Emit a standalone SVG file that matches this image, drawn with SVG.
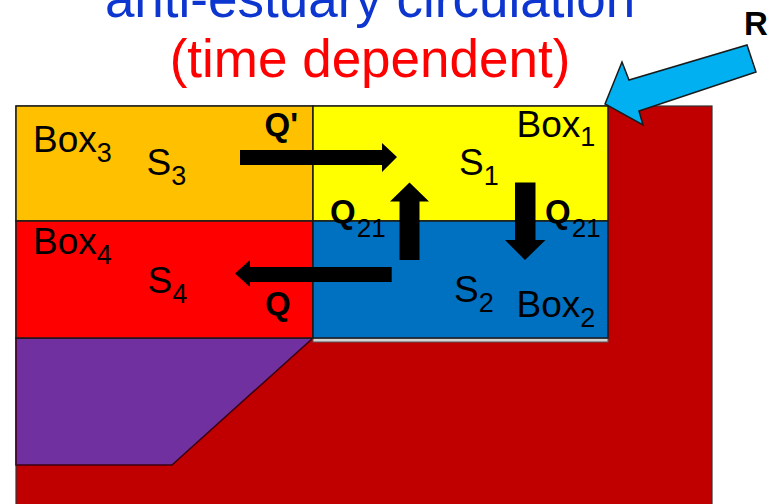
<svg xmlns="http://www.w3.org/2000/svg" width="778" height="504" viewBox="0 0 778 504">
  <style>
    .title { font-family: "Liberation Sans", Arial, sans-serif; font-size: 53px; text-anchor: middle; }
    .lbl { font-family: "Liberation Sans", Arial, sans-serif; font-size: 37px; fill: #000; }
    .sub { font-size: 27px; }
    .q { font-family: "Liberation Sans", Arial, sans-serif; font-size: 33px; font-weight: bold; fill: #000; }
    .qsub { font-size: 26px; font-weight: normal; }
    .box { stroke: #1a1a1a; stroke-width: 1.5; }
    .flow { fill: #000; }
  </style>

  <rect width="778" height="504" fill="#ffffff"/>

  <!-- title (first line runs past the top edge) -->
  <g id="title">
    <text class="title" x="370" y="17" fill="#0D35CF">anti-estuary circulation</text>
    <text class="title" x="370" y="77" fill="#FF0000">(time dependent)</text>
  </g>

  <!-- sea floor / basin -->
  <g id="basin">
    <rect x="16" y="106" width="696" height="410" fill="#C00000" stroke="#333" stroke-width="1.2"/>
    <polygon points="16,338 313,338 172,465 16,465" fill="#7030A0" stroke="#3a0010" stroke-width="1.5"/>
    <rect x="313" y="338" width="295" height="4" fill="#D4D4D4" stroke="#555" stroke-width="1"/>
  </g>

  <g id="box3">
    <rect class="box" x="16" y="106" width="297" height="115" fill="#FFC000"/>
    <text class="lbl" x="33" y="152">Box<tspan class="sub" dy="9.5">3</tspan></text>
    <text class="lbl" x="146.5" y="175">S<tspan class="sub" dy="9.5">3</tspan></text>
  </g>

  <g id="box1">
    <rect class="box" x="313" y="106" width="295" height="115" fill="#FFFF00"/>
    <text class="lbl" x="516.5" y="137">Box<tspan class="sub" dy="9">1</tspan></text>
    <text class="lbl" x="459" y="175">S<tspan class="sub" dy="9.5">1</tspan></text>
  </g>

  <g id="box4">
    <rect class="box" x="16" y="221" width="297" height="117" fill="#FF0000"/>
    <text class="lbl" x="33" y="254">Box<tspan class="sub" dy="9.5">4</tspan></text>
    <text class="lbl" x="147.5" y="293">S<tspan class="sub" dy="9.5">4</tspan></text>
  </g>

  <g id="box2">
    <rect class="box" x="313" y="221" width="295" height="117" fill="#0070C0"/>
    <text class="lbl" x="454" y="302">S<tspan class="sub" dy="10">2</tspan></text>
    <text class="lbl" x="516.5" y="317">Box<tspan class="sub" dy="10">2</tspan></text>
  </g>

  <!-- exchange flows between boxes -->
  <g id="connectors">
    <polygon class="flow" points="240,150 382,150 382,143 397,157 382,172 382,165 240,165"/>
    <polygon class="flow" points="391.7,267 250,267 250,260 235,273.5 250,287 250,282 391.7,282"/>
    <polygon class="flow" points="399.5,260 399.5,201.5 390,201.5 409.5,182.5 429,201.5 419.5,201.5 419.5,260"/>
    <polygon class="flow" points="515,182.5 535.5,182.5 535.5,240 545.5,240 525,260 505,240 515,240"/>
    <polygon points="605,104 622,62 629,80 747,45 756,72 639,111 643,125" fill="#00B0F0" stroke="#1a1a1a" stroke-width="1.5" stroke-linejoin="miter"/>
  </g>

  <!-- flow labels -->
  <g id="labels">
    <text class="q" x="264.5" y="136">Q'</text>
    <text class="q" x="330" y="223">Q<tspan class="qsub" dx="1" dy="13.5">21</tspan></text>
    <text class="q" x="545" y="223">Q<tspan class="qsub" dx="1" dy="13.5">21</tspan></text>
    <text class="q" x="265" y="315">Q</text>
    <text class="q" x="744" y="35" font-size="28">R</text>
  </g>
</svg>
